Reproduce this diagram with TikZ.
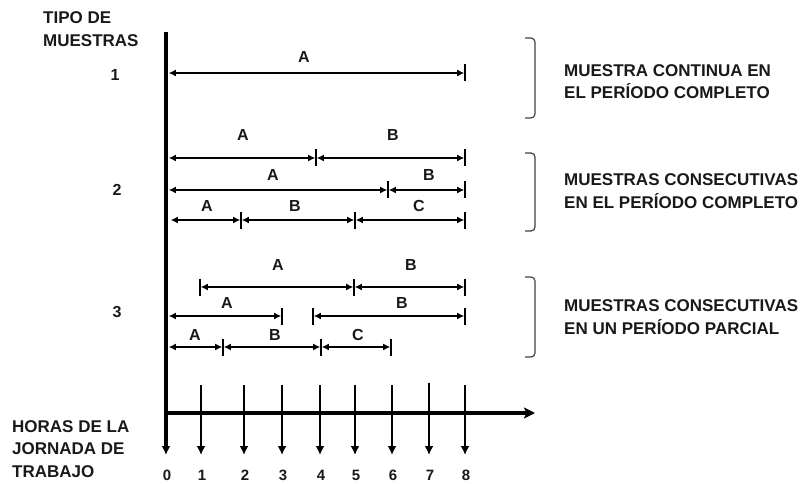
\documentclass[tikz,border=0pt]{standalone}
\usepackage{fontspec}
\setmainfont{Liberation Sans}
\usetikzlibrary{arrows.meta}
\begin{document}
\begin{tikzpicture}[x=1pt,y=-1pt,
  big/.style={font=\fontsize{17}{22.5}\selectfont\bfseries, inner sep=0pt, align=left, text=black!90},
  lab/.style={font=\fontsize{16}{18}\selectfont\bfseries, inner sep=0pt, text=black!90},
  num/.style={font=\fontsize{15}{17}\selectfont\bfseries, inner sep=0pt, text=black!90},
  iv/.style={line width=1.6pt, {Latex[length=7pt,width=7pt]}-{Latex[length=7pt,width=7pt]}, shorten <=0.8pt, shorten >=0.8pt},
  bar/.style={line width=1.6pt},
  tickarrow/.style={line width=2.4pt, -{Latex[length=9pt,width=9pt]}},
  axisline/.style={line width=3.2pt},
  brk/.style={line width=1.2pt, draw=black!75, rounded corners=4pt}]
\useasboundingbox (0,0) rectangle (809,484);

% axes
\coordinate (ax0) at (166,32);
\coordinate (ax1) at (166,455);
\draw[axisline, -{Latex[length=9pt,width=9pt]}] (ax0) -- (ax1);
\coordinate (hx0) at (166,413);
\coordinate (hx1) at (535,413);
\draw[axisline, -{Stealth[length=11pt,width=11pt,inset=2.5pt]}] (hx0) -- (hx1);

% ticks and hour numbers
\node[num] (d0) at (167,475) {0};
\foreach \n/\x/\t in {1/201/385,2/244/385,3/282/385,4/320/385,5/355/385,6/392/385,7/429/383,8/465/385}{
  \coordinate (tt\n) at (\x,\t);
  \coordinate (tb\n) at (\x,455);
  \draw[tickarrow] (tt\n) -- (tb\n);
  \node[num] (d\n) at (\x+1,475) {\n};
}

% row 1
\coordinate (p10) at (168,73); \coordinate (p11) at (465,73);
\draw[iv] (p10) -- (p11);
\node[lab] (l1a) at (304,57) {A};

% row 2a
\coordinate (p20) at (168,158); \coordinate (p21) at (316,158); \coordinate (p22) at (465,158);
\draw[iv] (p20) -- (p21);
\draw[iv] (p21) -- (p22);
\node[lab] (l2aa) at (243,135) {A};
\node[lab] (l2ab) at (393,135) {B};

% row 2b
\coordinate (q20) at (168,190); \coordinate (q21) at (388,190); \coordinate (q22) at (465,190);
\draw[iv] (q20) -- (q21);
\draw[iv] (q21) -- (q22);
\node[lab] (l2ba) at (273,175) {A};
\node[lab] (l2bb) at (429,175) {B};

% row 2c
\coordinate (s20) at (170,220); \coordinate (s21) at (241,220); \coordinate (s22) at (355,220); \coordinate (s23) at (465,220);
\draw[iv] (s20) -- (s21);
\draw[iv] (s21) -- (s22);
\draw[iv] (s22) -- (s23);
\node[lab] (l2ca) at (207,206) {A};
\node[lab] (l2cb) at (295,206) {B};
\node[lab] (l2cc) at (419,206) {C};

% row 3a
\coordinate (p30) at (200,287); \coordinate (p31) at (354,287); \coordinate (p32) at (465,287);
\draw[iv] (p30) -- (p31);
\draw[iv] (p31) -- (p32);
\node[lab] (l3aa) at (278,265) {A};
\node[lab] (l3ab) at (411,265) {B};

% row 3b
\coordinate (q30) at (168,316); \coordinate (q31) at (282,316); \coordinate (q32) at (313,316); \coordinate (q33) at (465,316);
\draw[iv] (q30) -- (q31);
\draw[iv] (q32) -- (q33);
\node[lab] (l3ba) at (227,303) {A};
\node[lab] (l3bb) at (402,303) {B};

% row 3c
\coordinate (s30) at (168,347); \coordinate (s31) at (223,347); \coordinate (s32) at (321,347); \coordinate (s33) at (391,347);
\draw[iv] (s30) -- (s31);
\draw[iv] (s31) -- (s32);
\draw[iv] (s32) -- (s33);
\node[lab] (l3ca) at (195,335) {A};
\node[lab] (l3cb) at (275,335) {B};
\node[lab] (l3cc) at (358,335) {C};

% bars
\foreach \c in {p11,p21,p22,q21,q22,s21,s22,s23,p30,p31,p32,q31,q32,q33,s31,s32,s33}{
  \draw[bar] ([yshift=8.5pt]\c) -- ([yshift=-8.5pt]\c);
}

% left labels
\node[big, anchor=west] (tipo) at (43,29) {TIPO DE\\MUESTRAS};
\node[lab] (n1) at (115,75) {1};
\node[lab] (n2) at (117,190) {2};
\node[lab] (n3) at (117,312) {3};
\node[big, anchor=west] (horas) at (12,449) {HORAS DE LA\\JORNADA DE\\TRABAJO};

% brackets
\draw[brk] (525,38) -- (535,38) -- (535,118) -- (525,118);
\draw[brk] (525,153) -- (535,153) -- (535,231) -- (525,231);
\draw[brk] (525,277) -- (535,277) -- (535,357) -- (525,357);

% right texts
\node[big, anchor=west] (g1) at (564,81.5) {MUESTRA CONTINUA EN\\EL PERÍODO COMPLETO};
\node[big, anchor=west] (g2) at (564,191) {MUESTRAS CONSECUTIVAS\\EN EL PERÍODO COMPLETO};
\node[big, anchor=west] (g3) at (564,317) {MUESTRAS CONSECUTIVAS\\EN UN PERÍODO PARCIAL};
\end{tikzpicture}
\end{document}
